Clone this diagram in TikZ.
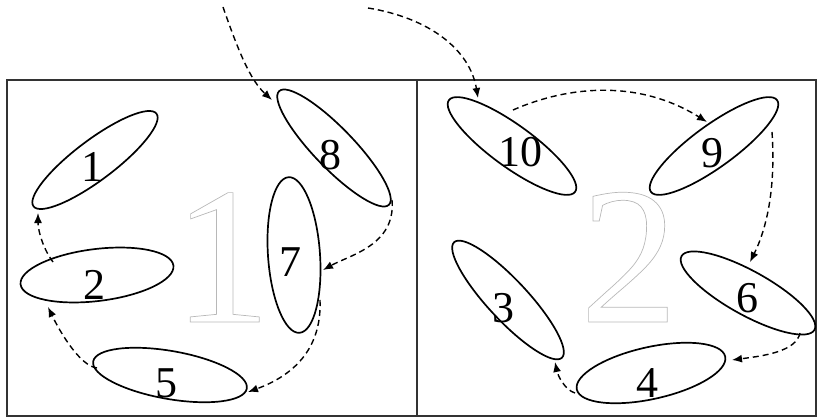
\documentclass[tikz,border=0pt]{standalone}
\usepackage{fontspec}
\setmainfont{Liberation Serif}
\usetikzlibrary{shapes.geometric,arrows.meta}
\newcommand\outlinedigit[1]{\special{pdf:literal direct 1 Tr 0.7 w 0.72 G}#1\special{pdf:literal direct 0 Tr 0 G}}
\begin{document}
\begin{tikzpicture}[x=1pt,y=-1pt,
  oval/.style={draw=black,line width=1.7pt,ellipse,inner sep=0pt},
  lab/.style={font=\fontsize{44}{44}\selectfont,inner sep=0pt},
  big/.style={font=\fontsize{196}{196}\selectfont,inner sep=0pt,anchor=base},
  flow/.style={draw=black,line width=1.4pt,dash pattern=on 6pt off 4pt,-{Latex[length=10pt,width=8pt]}},
  frame/.style={draw=black!80,line width=1.8pt}]
\useasboundingbox (0,0) rectangle (817,417);
\draw[frame] (7,80) rectangle (816,416);
\draw[frame] (417,80) -- (417,416);
% big outlined digits
\node[big] (B1) at (222,322) {\outlinedigit{1}};
\node[big] (B2) at (629,322) {\outlinedigit{2}};
% ellipses
\node[oval,minimum width=154pt,minimum height=40pt,rotate=37] (e1) at (95,160) {};
\node[oval,minimum width=154pt,minimum height=52pt,rotate=7] (e2) at (97,275) {};
\node[oval,minimum width=156pt,minimum height=48pt,rotate=-10] (e5) at (170,375) {};
\node[oval,minimum width=156pt,minimum height=52pt,rotate=94] (e7) at (294,255) {};
\node[oval,minimum width=158pt,minimum height=40pt,rotate=-46] (e8) at (334,148) {};
\node[oval,minimum width=156pt,minimum height=42pt,rotate=-36] (e10) at (512,146) {};
\node[oval,minimum width=156pt,minimum height=42pt,rotate=36] (e9) at (714,146) {};
\node[oval,minimum width=158pt,minimum height=40pt,rotate=-47] (e3) at (508,300) {};
\node[oval,minimum width=152pt,minimum height=44pt,rotate=-29] (e6) at (748,293) {};
\node[oval,minimum width=152pt,minimum height=52pt,rotate=12.5] (e4) at (651,373) {};
% labels
\node[lab] (l1) at (92,167) {1};
\node[lab] (l2) at (94,285) {2};
\node[lab] (l5) at (166,383) {5};
\node[lab] (l7) at (290,262) {7};
\node[lab] (l8) at (330,155) {8};
\node[lab] (l10) at (520,152) {10};
\node[lab] (l9) at (712,153) {9};
\node[lab] (l3) at (503,308) {3};
\node[lab] (l6) at (747,298) {6};
\node[lab] (l4) at (647,383) {4};
% connector ends
\coordinate (s8) at (223,7);
\coordinate (t8) at (272,100);
\coordinate (s10) at (368,8);
\coordinate (t10) at (478,98);
\coordinate (a10) at (513,110);
\coordinate (t9) at (707,122);
\coordinate (a9) at (772,132);
\coordinate (t6) at (750,262);
\coordinate (a6) at (800,333);
\coordinate (t4) at (732,360);
\coordinate (a4) at (575,393);
\coordinate (t3) at (555,362);
\coordinate (a8) at (392,200);
\coordinate (t7) at (323,270);
\coordinate (a7) at (320,300);
\coordinate (t5) at (248,392);
\coordinate (a5) at (97,368);
\coordinate (t2) at (48,307);
\coordinate (a2) at (53,262);
\coordinate (t1) at (38,213);
% connectors
\draw[flow] (s8) .. controls (238,50) and (250,80) .. (t8);
\draw[flow] (s10) .. controls (430,18) and (470,50) .. (t10);
\draw[flow] (a10) .. controls (570,85) and (640,80) .. (t9);
\draw[flow] (a9) .. controls (776,190) and (766,230) .. (t6);
\draw[flow] (a6) .. controls (796,352) and (762,356) .. (t4);
\draw[flow] (a4) .. controls (565,390) and (558,376) .. (t3);
\draw[flow] (a8) .. controls (396,245) and (350,255) .. (t7);
\draw[flow] (a7) .. controls (322,350) and (292,376) .. (t5);
\draw[flow] (a5) .. controls (80,366) and (60,332) .. (t2);
\draw[flow] (a2) .. controls (44,250) and (38,232) .. (t1);
\end{tikzpicture}
\end{document}
